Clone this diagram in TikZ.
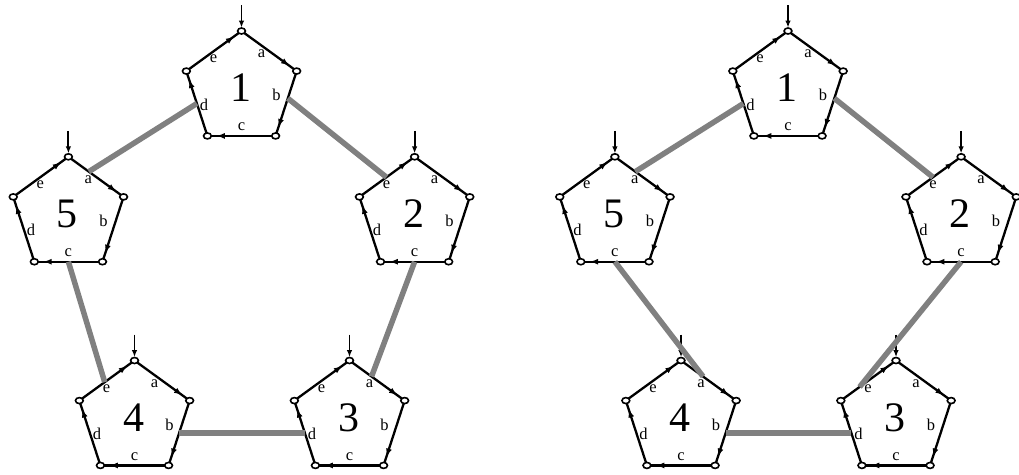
\documentclass[tikz,border=0pt]{standalone}
\usepackage{fontspec}
\setmainfont{Liberation Serif}
\usetikzlibrary{arrows.meta,calc,decorations.markings}

\tikzset{
  cyc/.style={line width=2.3pt, postaction={decorate},
    decoration={markings, mark=at position 0.87 with {\arrow{Latex[length=8.5pt,width=6pt]}}}},
  feed/.style={line width=1.9pt, -{Latex[length=7pt,width=5.5pt]}},
  vtx/.style={draw=black, fill=white, line width=1.6pt},
  link/.style={draw=gray, line width=5.5pt},
  lbl/.style={font=\fontsize{16.5}{16.5}\selectfont, inner sep=0pt},
  num/.style={font=\fontsize{42}{42}\selectfont, inner sep=0pt},
}

% corners 1..5: top, upper right, lower right, lower left, upper left
\newcommand\pentbody[3]{%
  \coordinate (#1) at (#2,#3);
  \foreach \k/\ang in {1/-90,2/-18,3/54,4/126,5/198}
    {\coordinate (#1-\k) at ($(#1)+(\ang:58)$);}
  \draw[cyc] (#1-1) -- (#1-2);
  \draw[cyc] (#1-2) -- (#1-3);
  \draw[cyc] (#1-3) -- (#1-4);
  \draw[cyc] (#1-4) -- (#1-5);
  \draw[cyc] (#1-5) -- (#1-1);
  \coordinate (#1-in) at ($(#1-1)+(0,-26)$);
  \coordinate (#1-tip) at ($(#1-1)+(0,-3.4)$);
  \draw[feed] (#1-in) -- (#1-tip);
}
\newcommand\pentlabels[2]{%
  \foreach \k in {1,...,5}
    {\draw[vtx] (#1-\k) ellipse [x radius=3.9, y radius=3.0];}
  \node[lbl] (#1-a) at ($(#1)+(20,-35)$) {a};
  \node[lbl] (#1-b) at ($(#1)+(35,6)$) {b};
  \node[lbl] (#1-c) at ($(#1)+(0,38)$) {c};
  \node[lbl] (#1-d) at ($(#1)+(-37.5,15.5)$) {d};
  \node[lbl] (#1-e) at ($(#1)+(-28,-30)$) {e};
  \node[num] (#1-n) at ($(#1)+(-1,-1)$) {#2};
}

\begin{document}
\begin{tikzpicture}[x=1pt,y=-1pt]
  \useasboundingbox (0,0) rectangle (1019,474);

  % left ring
  \pentbody{L1}{241.5}{89}
  \pentbody{L2}{414.6}{214.8}
  \pentbody{L3}{349.5}{418.5}
  \pentbody{L4}{134.5}{418.5}
  \pentbody{L5}{68.4}{214.8}
  % right ring
  \pentbody{R1}{788}{89}
  \pentbody{R2}{961.1}{214.8}
  \pentbody{R3}{896}{418.5}
  \pentbody{R4}{681}{418.5}
  \pentbody{R5}{614.9}{214.8}

  % attachment points on the sides
  \foreach \s in {L,R} {
    \coordinate (\s1d) at ($(\s1-4)!0.5!(\s1-5)$);
    \coordinate (\s1b) at ($(\s1-2)!0.42!(\s1-3)$);
    \coordinate (\s2e) at ($(\s2-5)!0.49!(\s2-1)$);
    \coordinate (\s2c) at ($(\s2-3)!0.5!(\s2-4)$);
    \coordinate (\s3d) at ($(\s3-4)!0.5!(\s3-5)$);
    \coordinate (\s4b) at ($(\s4-2)!0.5!(\s4-3)$);
    \coordinate (\s5a) at ($(\s5-1)!0.37!(\s5-2)$);
    \coordinate (\s5c) at ($(\s5-3)!0.5!(\s5-4)$);
  }
  \coordinate (L3a) at ($(L3-1)!0.4!(L3-2)$);
  \coordinate (L4e) at ($(L4-5)!0.46!(L4-1)$);
  \coordinate (R3e) at ($(R3-5)!0.34!(R3-1)$);
  \coordinate (R4a) at ($(R4-1)!0.4!(R4-2)$);

  % links between the pentagons
  \draw[link] (L1d) -- (L5a);
  \draw[link] (L1b) -- (L2e);
  \draw[link] (L2c) -- (L3a);
  \draw[link] (L3d) -- (L4b);
  \draw[link] (L4e) -- (L5c);

  \draw[link] (R1d) -- (R5a);
  \draw[link] (R1b) -- (R2e);
  \draw[link] (R2c) -- (R3e);
  \draw[link] (R3d) -- (R4b);
  \draw[link] (R4a) -- (R5c);

  \pentlabels{L1}{1}
  \pentlabels{L2}{2}
  \pentlabels{L3}{3}
  \pentlabels{L4}{4}
  \pentlabels{L5}{5}
  \pentlabels{R1}{1}
  \pentlabels{R2}{2}
  \pentlabels{R3}{3}
  \pentlabels{R4}{4}
  \pentlabels{R5}{5}
\end{tikzpicture}
\end{document}
